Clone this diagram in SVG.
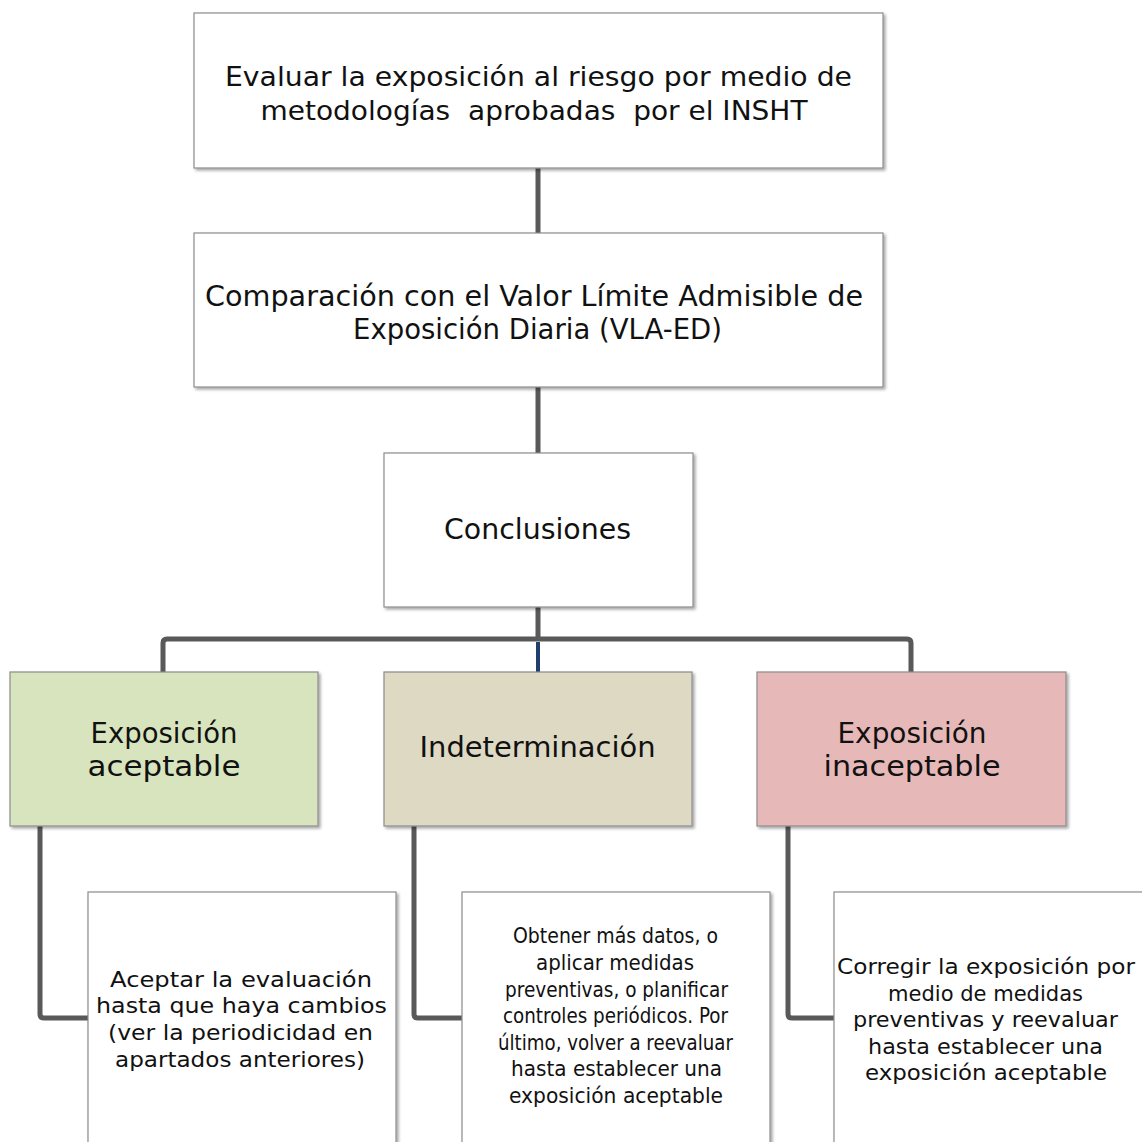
<svg xmlns="http://www.w3.org/2000/svg" width="1142" height="1142" viewBox="0 0 1142 1142">
<defs>
<filter id="sh" x="-5%" y="-5%" width="115%" height="115%">
<feDropShadow dx="2" dy="2" stdDeviation="1.5" flood-color="#000" flood-opacity="0.35"/>
</filter>
<style>
.box{stroke:#8c8c8c;stroke-width:1.2;filter:url(#sh)}
.w{fill:#ffffff}
.g{fill:#d7e4bd}
.t{fill:#ddd9c3}
.p{fill:#e6b9b8}
text{font-family:"DejaVu Sans","Liberation Sans",sans-serif;fill:#111;text-anchor:middle}
.f28{font-size:27px}
.f29{font-size:28px}
.f23{font-size:22px}
.ln{fill:none;stroke:#595959;stroke-width:5;stroke-linejoin:round}
.bl{fill:none;stroke:#1f3f6e;stroke-width:4}
</style>
</defs>
<rect width="1142" height="1142" fill="#ffffff"/>
<g id="connectors">
<path class="ln" d="M538 168 V233"/>
<path class="ln" d="M538 387 V453"/>
<path class="ln" d="M538 607 V639"/>
<path class="ln" d="M163 672 V643 Q163 639 167 639 H907 Q911 639 911 643 V672"/>
<path class="bl" d="M538 642 V672"/>
<path class="ln" d="M40 826 V1014 Q40 1018 44 1018 H88"/>
<path class="ln" d="M414 826 V1014 Q414 1018 418 1018 H462"/>
<path class="ln" d="M788 826 V1014 Q788 1018 792 1018 H834"/>
</g>
<g id="n1">
<rect class="box w" x="194" y="13" width="689" height="155"/>
<text class="f28" x="538.5" y="86" textLength="627" lengthAdjust="spacingAndGlyphs">Evaluar la exposición al riesgo por medio de</text>
<text class="f28" x="534" y="120" textLength="547" lengthAdjust="spacingAndGlyphs" xml:space="preserve">metodologías  aprobadas  por el INSHT</text>
</g>
<g id="n2">
<rect class="box w" x="194" y="233" width="689" height="154"/>
<text class="f29" x="534" y="306" textLength="658" lengthAdjust="spacingAndGlyphs">Comparación con el Valor Límite Admisible de</text>
<text class="f29" x="537.5" y="339" textLength="369" lengthAdjust="spacingAndGlyphs">Exposición Diaria (VLA-ED)</text>
</g>
<g id="n3">
<rect class="box w" x="384" y="453" width="309" height="154"/>
<text class="f29" x="537.5" y="539" textLength="187" lengthAdjust="spacingAndGlyphs">Conclusiones</text>
</g>
<g id="n4">
<rect class="box g" x="10" y="672" width="308" height="154"/>
<text class="f29" x="164" y="743" textLength="147" lengthAdjust="spacingAndGlyphs">Exposición</text>
<text class="f29" x="164" y="776" textLength="153" lengthAdjust="spacingAndGlyphs">aceptable</text>
</g>
<g id="n5">
<rect class="box t" x="384" y="672" width="308" height="154"/>
<text class="f29" x="537.5" y="757" textLength="236" lengthAdjust="spacingAndGlyphs">Indeterminación</text>
</g>
<g id="n6">
<rect class="box p" x="757" y="672" width="309" height="154"/>
<text class="f29" x="912" y="743" textLength="149" lengthAdjust="spacingAndGlyphs">Exposición</text>
<text class="f29" x="912" y="776" textLength="177" lengthAdjust="spacingAndGlyphs">inaceptable</text>
</g>
<g id="n7">
<rect class="box w" x="88" y="892" width="308" height="270"/>
<text class="f23" x="241" y="987" textLength="262" lengthAdjust="spacingAndGlyphs">Aceptar la evaluación</text>
<text class="f23" x="241.5" y="1013" textLength="291" lengthAdjust="spacingAndGlyphs">hasta que haya cambios</text>
<text class="f23" x="240.5" y="1040" textLength="265" lengthAdjust="spacingAndGlyphs">(ver la periodicidad en</text>
<text class="f23" x="240" y="1067" textLength="250" lengthAdjust="spacingAndGlyphs">apartados anteriores)</text>
</g>
<g id="n8">
<rect class="box w" x="462" y="892" width="308" height="270"/>
<text class="f23" x="615.5" y="943" textLength="205" lengthAdjust="spacingAndGlyphs">Obtener más datos, o</text>
<text class="f23" x="615" y="970" textLength="158" lengthAdjust="spacingAndGlyphs">aplicar medidas</text>
<text class="f23" x="616.5" y="997" textLength="223" lengthAdjust="spacingAndGlyphs">preventivas, o planificar</text>
<text class="f23" x="615.5" y="1023" textLength="225" lengthAdjust="spacingAndGlyphs">controles periódicos. Por</text>
<text class="f23" x="615.5" y="1050" textLength="235" lengthAdjust="spacingAndGlyphs">último, volver a reevaluar</text>
<text class="f23" x="616.5" y="1076" textLength="211" lengthAdjust="spacingAndGlyphs">hasta establecer una</text>
<text class="f23" x="616" y="1103" textLength="214" lengthAdjust="spacingAndGlyphs">exposición aceptable</text>
</g>
<g id="n9">
<rect class="box w" x="834" y="892" width="320" height="270"/>
<text class="f23" x="986" y="974" textLength="298" lengthAdjust="spacingAndGlyphs">Corregir la exposición por</text>
<text class="f23" x="985.5" y="1001" textLength="195" lengthAdjust="spacingAndGlyphs">medio de medidas</text>
<text class="f23" x="985.5" y="1027" textLength="265" lengthAdjust="spacingAndGlyphs">preventivas y reevaluar</text>
<text class="f23" x="985.5" y="1054" textLength="235" lengthAdjust="spacingAndGlyphs">hasta establecer una</text>
<text class="f23" x="986" y="1080" textLength="242" lengthAdjust="spacingAndGlyphs">exposición aceptable</text>
</g>
</svg>
